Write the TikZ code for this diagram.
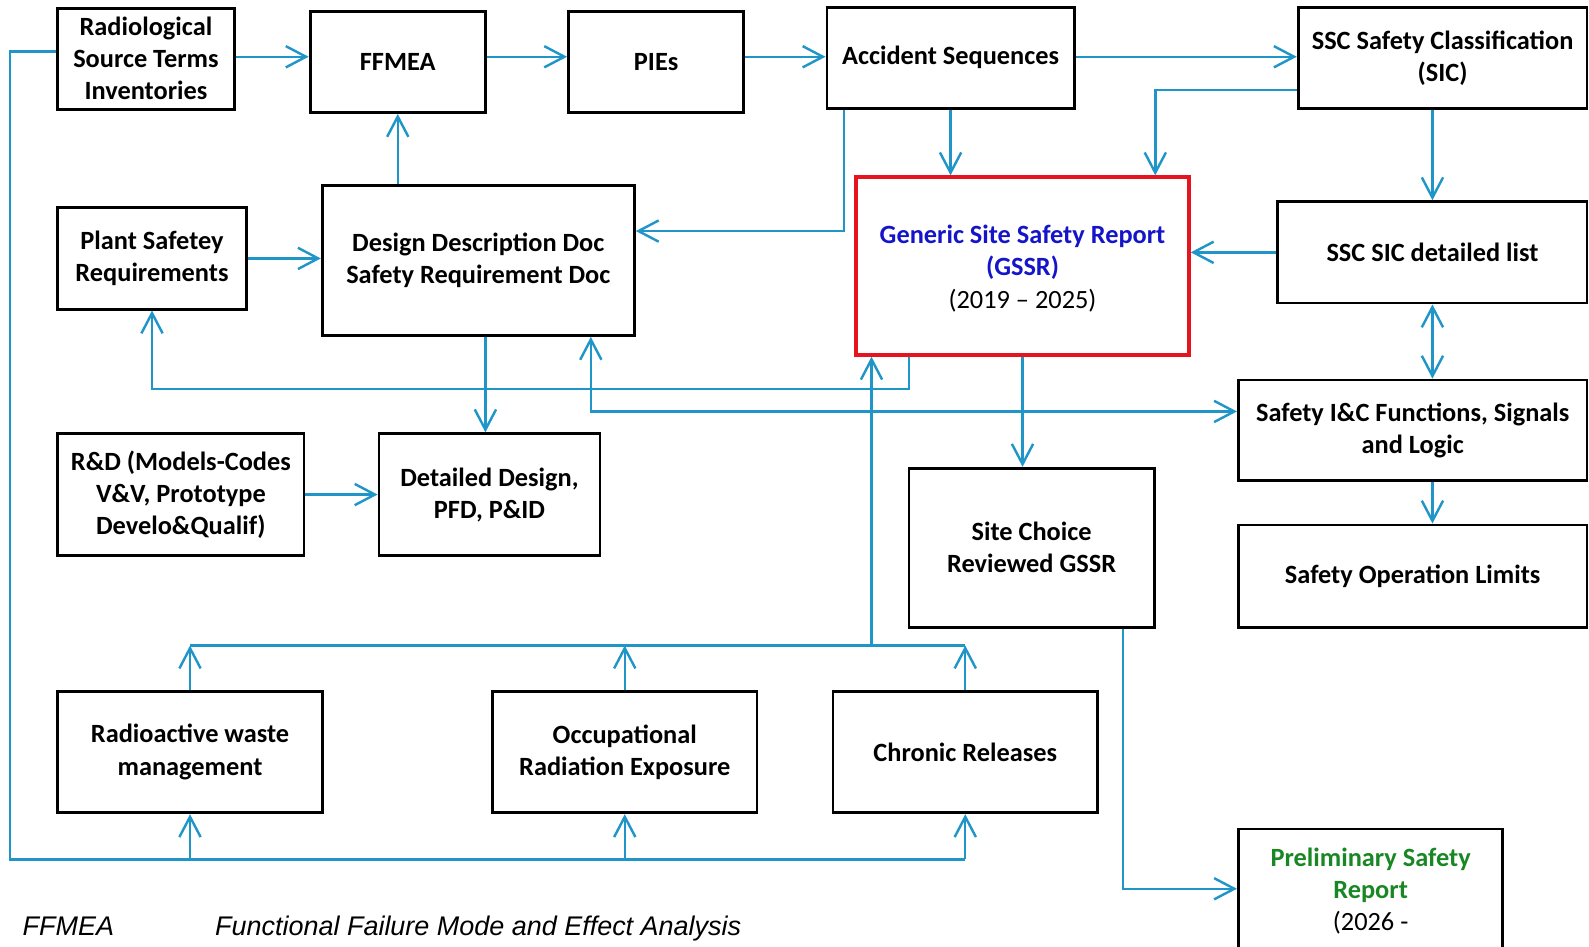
\documentclass[tikz,border=0pt]{standalone}
\usepackage{fontspec}
\setmainfont{Carlito}
\newfontfamily\arialfont{Liberation Sans}
\usetikzlibrary{arrows.meta}
\definecolor{conn}{RGB}{32,150,200}
\definecolor{gssrblue}{RGB}{20,20,200}
\definecolor{prelimgreen}{RGB}{25,135,35}
\definecolor{gssrred}{RGB}{230,20,30}
\begin{document}
\begin{tikzpicture}[x=0.5pt,y=-0.5pt,
  box/.style={draw=black, line width=1.4pt, rectangle, inner sep=0pt, align=center,
    font=\fontsize{13}{15.8}\selectfont\bfseries},
  txt/.style={inner sep=0pt, align=center, font=\fontsize{13}{15.8}\selectfont\bfseries},
  arr/.style={draw=conn, line width=1.2pt, -{Straight Barb[length=10pt,width=10.5pt]}},
  arr2/.style={draw=conn, line width=1.2pt, {Straight Barb[length=10pt,width=10.5pt]}-{Straight Barb[length=10pt,width=10.5pt]}},
  wire/.style={draw=conn, line width=1.2pt},
  note/.style={inner sep=0pt, anchor=base west, font=\arialfont\itshape\fontsize{13.3}{16}\selectfont},
]
\useasboundingbox (0,0) rectangle (1568,934);
\clip (0,0) rectangle (1568,934);

% boxes
\node[box, minimum width=87pt, minimum height=50pt] (rad) at (144,58) {Radiological\\Source Terms\\Inventories};
\node[box, minimum width=86.5pt, minimum height=50pt] (ffmea) at (392.5,61) {FFMEA};
\node[box, minimum width=86.5pt, minimum height=50pt] (pies) at (647.5,61) {PIEs};
\node[box, minimum width=122pt, minimum height=50pt] (acc) at (938,57) {Accident Sequences};
\node[box, minimum width=142.5pt, minimum height=50pt] (sscsc) at (1423.5,57) {SSC Safety Classification\\(SIC)};
\node[box, minimum width=93pt, minimum height=50pt] (plant) at (150,255) {Plant Safetey\\Requirements};
\node[box, minimum width=154pt, minimum height=74pt] (ddd) at (472,257) {Design Description Doc\\Safety Requirement Doc};
\node[box, draw=gssrred, line width=2pt, minimum width=164pt, minimum height=87.5pt] (gssr) at (1009,262.5) {};
\node[txt] (gssrtxt) at (1009,265)
  {{\color{gssrblue}Generic Site Safety Report}\\{\color{gssrblue}(GSSR)}\\{\mdseries (2019 -- 2025)}};
\node[box, minimum width=152.5pt, minimum height=50pt] (ssclist) at (1413.5,249) {SSC SIC detailed list};
\node[box, minimum width=172pt, minimum height=49.5pt] (ic) at (1394,424.5) {Safety I\&C Functions, Signals\\and Logic};
\node[box, minimum width=172pt, minimum height=50.5pt] (sol) at (1394,568.5) {Safety Operation Limits};
\node[box, minimum width=121.5pt, minimum height=60pt] (rd) at (178.5,488) {R\&D (Models-Codes\\V\&V, Prototype\\Develo\&Qualif)};
\node[box, minimum width=109pt, minimum height=60pt] (dd) at (483,488) {Detailed Design,\\PFD, P\&ID};
\node[box, minimum width=121pt, minimum height=78.5pt] (site) at (1018,540.5) {Site Choice\\Reviewed GSSR};
\node[box, minimum width=130.5pt, minimum height=60pt] (rw) at (187.5,742) {Radioactive waste\\management};
\node[box, minimum width=130.5pt, minimum height=60pt] (ore) at (616.5,742) {Occupational\\Radiation Exposure};
\node[box, minimum width=130.5pt, minimum height=60pt] (cr) at (952.5,742) {Chronic Releases};
\node[box, minimum width=130.5pt, minimum height=71pt] (prelim) at (1352.5,889) {};
\node[txt] (prelimtxt) at (1352.5,879)
  {{\color{prelimgreen}Preliminary Safety}\\{\color{prelimgreen}Report}\\{\mdseries (2026 -}};

% turning points
\coordinate (row1) at (0,56);
\coordinate (accL) at (833,228);
\coordinate (sscT) at (1140,89);
\coordinate (o1) at (897,384);
\coordinate (o2) at (150,384);
\coordinate (p1) at (479,0);
\coordinate (q1) at (583,406);
\coordinate (busT) at (0,637);
\coordinate (s1) at (860,637);
\coordinate (t1) at (10,51);
\coordinate (busB) at (0,848);
\coordinate (u1) at (1108,877);

% top row
\draw[arr] (rad.east |- row1) -- (ffmea.west |- row1);
\draw[arr] (ffmea.east |- row1) -- (pies.west |- row1);
\draw[arr] (pies.east |- row1) -- (acc.west |- row1);
\draw[arr] (acc.east |- row1) -- (sscsc.west |- row1);

\draw[arr] (ddd.north -| ffmea.south) -- (ffmea.south);
\draw[arr] (plant.east) -- (plant.east -| ddd.west);
\draw[arr] (acc.south -| accL) -- (accL) -- (accL -| ddd.east);
\draw[arr] (acc.south) -- (acc.south |- gssr.north);
\draw[arr] (sscsc.west |- sscT) -- (sscT) -- (sscT |- gssr.north);
\draw[arr] (sscsc.south -| ssclist.north) -- (ssclist.north);
\draw[arr] (ssclist.west) -- (ssclist.west -| gssr.east);
\draw[arr2] (ssclist.south) -- (ssclist.south |- ic.north);
\draw[arr] (ic.south -| ssclist.south) -- (sol.north -| ssclist.south);
\draw[arr] (gssr.south) -- (gssr.south |- site.north);
\draw[arr] (gssr.south -| o1) -- (o1) -- (o2) -- (plant.south);
\draw[arr] (ddd.south -| p1) -- (dd.north -| p1);
\draw[arr2] (ddd.south -| q1) -- (q1) -- (q1 -| ic.west);
\draw[arr] (rd.east) -- (rd.east -| dd.west);

% upper bus
\draw[arr] (rw.north) -- (rw.north |- busT);
\draw[arr] (ore.north) -- (ore.north |- busT);
\draw[arr] (cr.north) -- (cr.north |- busT);
\draw[wire] (rw.north |- busT) -- (cr.north |- busT);
\draw[arr] (s1) -- (s1 |- gssr.south);

% lower loop
\draw[wire] (rad.west |- t1) -- (t1) -- (t1 |- busB) -- (cr.south |- busB);
\draw[arr] (rw.south |- busB) -- (rw.south);
\draw[arr] (ore.south |- busB) -- (ore.south);
\draw[arr] (cr.south |- busB) -- (cr.south);

\draw[arr] (site.south -| u1) -- (u1) -- (u1 -| prelim.west);

% legend
\node[note] (fn1) at (22,923) {FFMEA};
\node[note] (fn2) at (212,923) {Functional Failure Mode and Effect Analysis};
\end{tikzpicture}
\end{document}
